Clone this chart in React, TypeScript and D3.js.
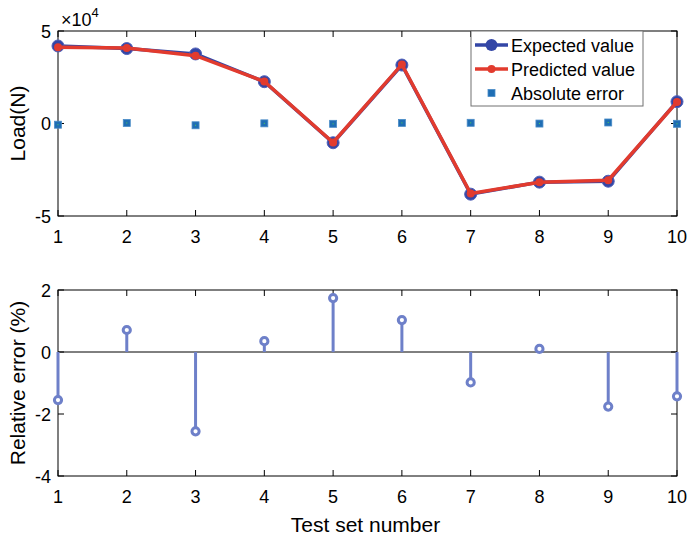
import React, { useEffect, useRef } from 'react';
import * as d3 from 'd3';

const testSets = [1, 2, 3, 4, 5, 6, 7, 8, 9, 10];
const expectedValue = [41900, 40500, 37600, 22600, -10400, 31600, -38200, -31700, -31200, 11800];
const predictedValue = [41250, 40790, 36640, 22680, -10250, 31930, -37830, -31730, -30650, 11630];
const absoluteError = [-650, 290, -960, 80, -180, 330, 370, -30, 550, -170];
const relativeError = [-1.55, 0.71, -2.56, 0.35, 1.74, 1.03, -0.98, 0.1, -1.76, -1.43];
const loadTicks = [-5, 0, 5];
const relTicks = [-4, -2, 0, 2];

const FONT = '"Liberation Sans", Arial, sans-serif';

export default function App() {
  const svgRef = useRef<SVGSVGElement>(null);

  useEffect(() => {
    const svg = d3.select(svgRef.current);
    svg.selectAll('*').remove();

    const width = 691, height = 542;
    const left = 58, right = 677;
    const top1 = 31, bottom1 = 216;
    const top2 = 290, bottom2 = 476;

    svg.attr('viewBox', `0 0 ${width} ${height}`);
    svg.append('rect').attr('width', width).attr('height', height).attr('fill', '#fff');

    const x = d3.scaleLinear().domain([1, 10]).range([left, right]);
    const y1 = d3.scaleLinear().domain([-5e4, 5e4]).range([bottom1, top1]);
    const y2 = d3.scaleLinear().domain([-4, 2]).range([bottom2, top2]);

    const drawFrame = (top: number, bottom: number, yScale: d3.ScaleLinear<number, number>, ticks: number[], fmt: (d: number) => string) => {
      const g = svg.append('g');
      g.append('rect')
        .attr('x', left).attr('y', top)
        .attr('width', right - left).attr('height', bottom - top)
        .attr('fill', 'none').attr('stroke', '#000').attr('stroke-width', 1);
      // x ticks, inside, top and bottom
      testSets.forEach(t => {
        g.append('line').attr('x1', x(t)).attr('x2', x(t)).attr('y1', bottom).attr('y2', bottom - 6).attr('stroke', '#000');
        g.append('line').attr('x1', x(t)).attr('x2', x(t)).attr('y1', top).attr('y2', top + 6).attr('stroke', '#000');
        g.append('text')
          .attr('x', x(t)).attr('y', bottom + 27)
          .attr('text-anchor', 'middle')
          .attr('font-family', FONT).attr('font-size', 18)
          .text(t);
      });
      ticks.forEach(t => {
        const yy = yScale(t);
        g.append('line').attr('x1', left).attr('x2', left + 6).attr('y1', yy).attr('y2', yy).attr('stroke', '#000');
        g.append('line').attr('x1', right).attr('x2', right - 6).attr('y1', yy).attr('y2', yy).attr('stroke', '#000');
        g.append('text')
          .attr('x', left - 7).attr('y', yy + 6.5)
          .attr('text-anchor', 'end')
          .attr('font-family', FONT).attr('font-size', 18)
          .text(fmt(t));
      });
    };

    // ---- top plot
    drawFrame(top1, bottom1, y1, loadTicks.map(d => d * 1e4), d => String(d / 1e4));

    const exp = svg.append('text')
      .attr('x', 61).attr('y', 26)
      .attr('font-family', FONT).attr('font-size', 18);
    exp.append('tspan').text('×10');
    exp.append('tspan').attr('dy', -9).attr('font-size', 13).text('4');

    svg.append('text')
      .attr('transform', `translate(25,${(top1 + bottom1) / 2}) rotate(-90)`)
      .attr('text-anchor', 'middle')
      .attr('font-family', FONT).attr('font-size', 21)
      .text('Load(N)');

    const line = d3.line<number>().x((_, i) => x(testSets[i])).y(d => y1(d));

    svg.append('path').datum(expectedValue)
      .attr('d', line).attr('fill', 'none')
      .attr('stroke', '#3346a6').attr('stroke-width', 3.5);
    svg.selectAll('circle.exp').data(expectedValue).join('circle')
      .attr('class', 'exp')
      .attr('cx', (_, i) => x(testSets[i])).attr('cy', d => y1(d))
      .attr('r', 6).attr('fill', '#3346a6').attr('stroke', '#5060b8').attr('stroke-width', 1);

    svg.append('path').datum(predictedValue)
      .attr('d', line).attr('fill', 'none')
      .attr('stroke', '#e23b2e').attr('stroke-width', 3.5);
    svg.selectAll('circle.pred').data(predictedValue).join('circle')
      .attr('class', 'pred')
      .attr('cx', (_, i) => x(testSets[i])).attr('cy', d => y1(d))
      .attr('r', 4).attr('fill', '#e23b2e');

    const sq = 7;
    const absG = svg.append('g');
    absoluteError.forEach((d, i) => {
      absG.append('rect')
        .attr('x', x(testSets[i]) - sq / 2).attr('y', y1(d) - sq / 2)
        .attr('width', sq).attr('height', sq)
        .attr('fill', '#1f6eb4').attr('stroke', '#4a8cc8').attr('stroke-width', 0.8);
      absG.append('rect')
        .attr('x', x(testSets[i]) - 0.5).attr('y', y1(d) - 0.5)
        .attr('width', 1).attr('height', 1).attr('fill', '#4fd04f');
    });

    // legend
    const lg = svg.append('g');
    const lx = 471, ly = 31, lw = 172, lh = 75;
    lg.append('rect').attr('x', lx).attr('y', ly).attr('width', lw).attr('height', lh)
      .attr('fill', '#fff').attr('stroke', '#707070').attr('stroke-width', 1);
    const items = [
      { label: 'Expected value', kind: 'exp', y: 45 },
      { label: 'Predicted value', kind: 'pred', y: 69 },
      { label: 'Absolute error', kind: 'abs', y: 93 },
    ];
    items.forEach(it => {
      const x0 = 475, x1 = 508, cx = (x0 + x1) / 2;
      if (it.kind === 'exp') {
        lg.append('line').attr('x1', x0).attr('x2', x1).attr('y1', it.y).attr('y2', it.y).attr('stroke', '#3346a6').attr('stroke-width', 3.5);
        lg.append('circle').attr('cx', cx).attr('cy', it.y).attr('r', 6).attr('fill', '#3346a6');
      } else if (it.kind === 'pred') {
        lg.append('line').attr('x1', x0).attr('x2', x1).attr('y1', it.y).attr('y2', it.y).attr('stroke', '#e23b2e').attr('stroke-width', 3.5);
        lg.append('circle').attr('cx', cx).attr('cy', it.y).attr('r', 4).attr('fill', '#e23b2e');
      } else {
        lg.append('rect').attr('x', cx - sq / 2).attr('y', it.y - sq / 2).attr('width', sq).attr('height', sq)
          .attr('fill', '#1f6eb4').attr('stroke', '#4a8cc8').attr('stroke-width', 0.8);
      }
      lg.append('text').attr('x', 511).attr('y', it.y + 6.5)
        .attr('font-family', FONT).attr('font-size', 18)
        .text(it.label);
    });

    // ---- bottom plot
    drawFrame(top2, bottom2, y2, relTicks, d => String(d));

    svg.append('line')
      .attr('x1', left).attr('x2', right)
      .attr('y1', y2(0)).attr('y2', y2(0))
      .attr('stroke', '#000').attr('stroke-width', 1);

    const stemColor = '#6e80c9';
    relativeError.forEach((d, i) => {
      const cx = x(testSets[i]);
      svg.append('line')
        .attr('x1', cx).attr('x2', cx)
        .attr('y1', y2(0)).attr('y2', y2(d))
        .attr('stroke', stemColor).attr('stroke-width', 3);
      svg.append('circle')
        .attr('cx', cx).attr('cy', y2(d)).attr('r', 3.6)
        .attr('fill', '#fff').attr('stroke', stemColor).attr('stroke-width', 3);
    });

    svg.append('text')
      .attr('transform', `translate(25,${(top2 + bottom2) / 2}) rotate(-90)`)
      .attr('text-anchor', 'middle')
      .attr('font-family', FONT).attr('font-size', 21)
      .text('Relative error (%)');

    svg.append('text')
      .attr('x', (left + right) / 2 - 2).attr('y', 532)
      .attr('text-anchor', 'middle')
      .attr('font-family', FONT).attr('font-size', 21)
      .text('Test set number');
  }, []);

  return (
    <svg
      ref={svgRef}
      width={691}
      height={542}
      style={{ position: 'absolute', top: 0, left: 0, display: 'block' }}
    />
  );
}
